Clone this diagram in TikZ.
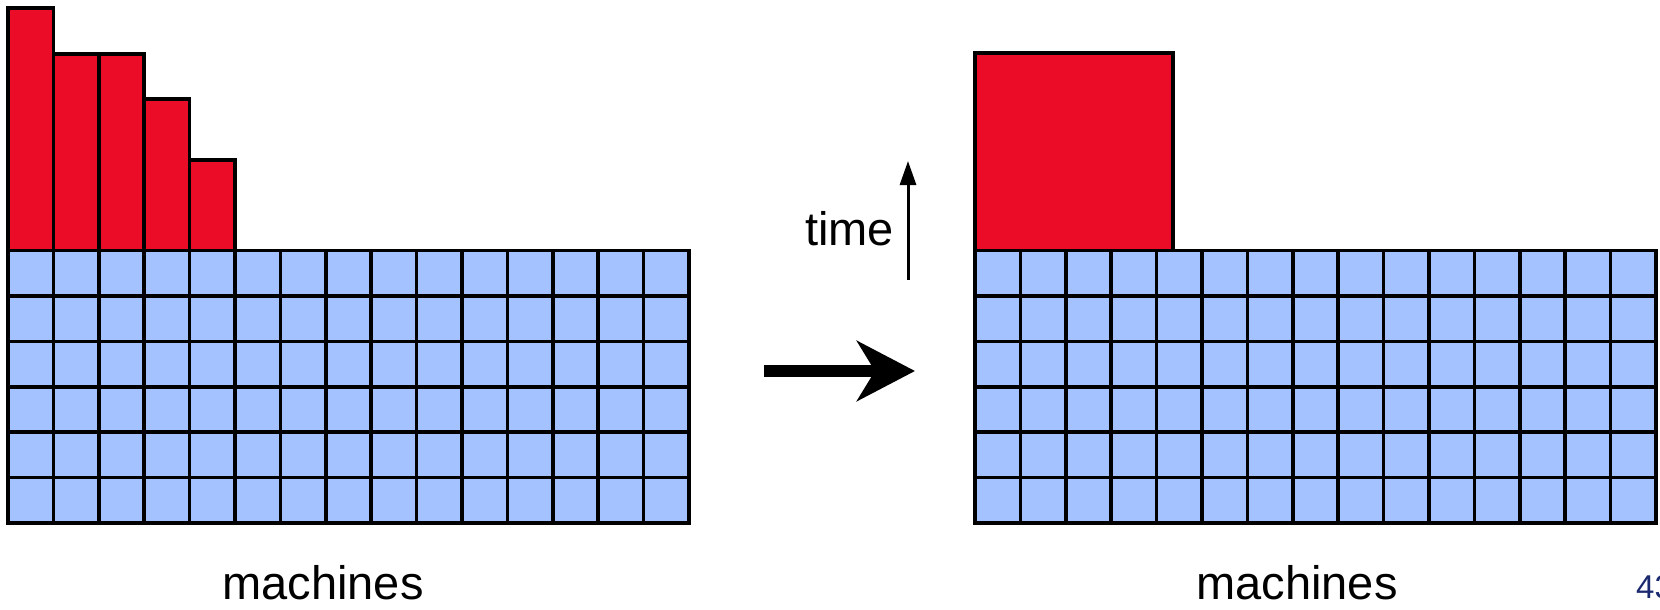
\documentclass[tikz,border=0pt]{standalone}
\usepackage{fontspec}
\setmainfont{Liberation Sans}
\usetikzlibrary{arrows.meta,positioning}
\definecolor{jobred}{RGB}{235,12,40}
\definecolor{slotblue}{RGB}{164,194,255}
\definecolor{pagenavy}{RGB}{27,42,110}

\begin{document}
\begin{tikzpicture}[x=1pt,y=-1pt,
    cell/.style={draw=black,line width=3.6pt,fill=slotblue},
    job/.style={draw=black,line width=3.6pt,fill=jobred},
    label/.style={font=\fontsize{47}{50}\selectfont,inner sep=0pt}]
  \useasboundingbox (0,0) rectangle (1660,610);

  % left: jobs of unequal length
  \foreach \c/\t in {0/8,1/54,2/54,3/99,4/160}
    \draw[job] (8+45.4*\c,\t) rectangle ++(45.4,250.5-\t);
  % right: one job, same area
  \draw[job] (975,53) rectangle (1173,250.5);

  % machine slots
  \foreach \gx in {8,975}
    \foreach \c in {0,...,14}
      \foreach \r in {0,...,5}
        \draw[cell] (\gx+45.4*\c,250.5+45.4*\r) rectangle ++(45.4,45.4);

  \node[label,anchor=base] (machL) at (323,599) {machines};
  \node[label,anchor=base] (machR) at (1297,599) {machines};
  \node[label,anchor=base east] (time) at (894,245) {time};
  \node[font=\fontsize{33}{35}\selectfont,text=pagenavy,anchor=base west,inner sep=0pt] (page) at (1636,598) {43};

  \coordinate (t0) at (908,280);
  \coordinate (t1) at (908,161);
  \coordinate (from) at (764,371);
  \coordinate (to) at (915,371);
  \draw[line width=3pt,-{Triangle[length=24pt,width=16pt]}] (t0) -- (t1);
  \draw[line width=12pt,-{Stealth[length=58pt,width=60pt,inset=18pt]}] (from) -- (to);
\end{tikzpicture}
\end{document}
